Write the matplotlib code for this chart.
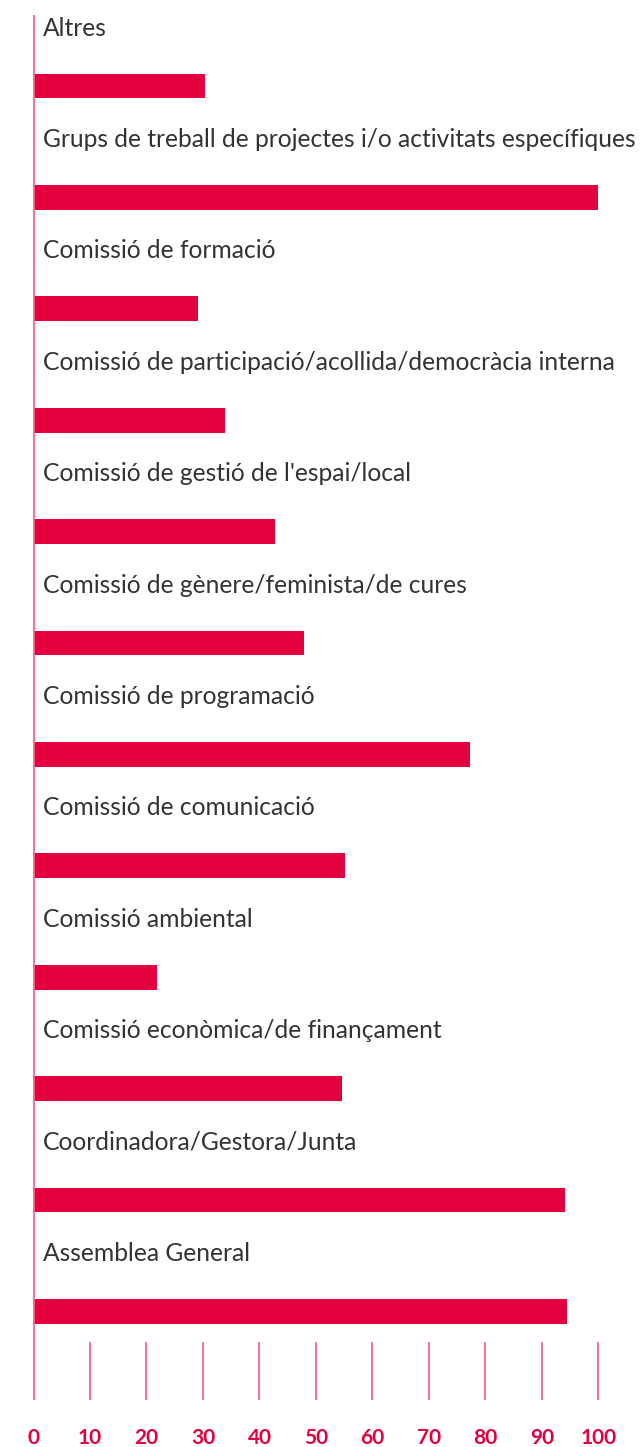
import matplotlib.pyplot as plt

categories = [
    "Altres",
    "Grups de treball de projectes i/o activitats específiques",
    "Comissió de formació",
    "Comissió de participació/acollida/democràcia interna",
    "Comissió de gestió de l'espai/local",
    "Comissió de gènere/feminista/de cures",
    "Comissió de programació",
    "Comissió de comunicació",
    "Comissió ambiental",
    "Comissió econòmica/de finançament",
    "Coordinadora/Gestora/Junta",
    "Assemblea General",
]
values = [30.4, 100, 29.1, 33.9, 42.7, 47.9, 77.3, 55.1, 21.9, 54.6, 94.1, 94.4]
ticks = list(range(0, 101, 10))

RED = "#e4003f"
AXIS = "#f06a8a"

fig = plt.figure(figsize=(6.4, 14.47), dpi=100)
ax = fig.add_axes([0, 0, 1, 1])

ypos = list(range(len(categories)))
ax.barh(ypos, values, height=0.224, color=RED, left=0)

for i, lab in enumerate(categories):
    ax.text(1.7, i - 0.52, lab, fontsize=17.7, family="Lato", color="#333333",
            va="center", ha="left")

# vertical axis line and ticks
ax.vlines(0, -0.637, 11.795, color=AXIS, lw=1.3)
ax.vlines(ticks[1:], 11.275, 11.795, color=AXIS, lw=1.3)
for t in ticks:
    ax.text(t, 12.137, str(t), fontsize=15, family="Lato", fontweight="bold",
            color=RED, ha="center", va="center")

ax.set_xlim(-5.93, 107.35)
ax.set_ylim(12.217, -0.772)
ax.axis("off")

fig.savefig("out.png", dpi=100)
